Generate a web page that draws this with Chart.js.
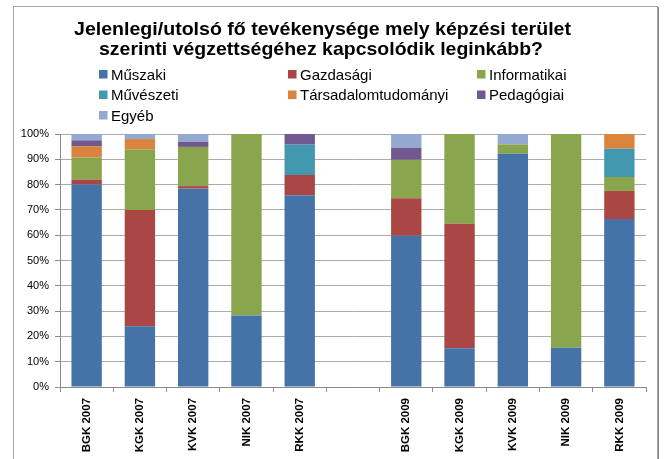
<!DOCTYPE html>
<html>
<head>
<meta charset="utf-8">
<script src="https://cdn.jsdelivr.net/npm/chart.js@4"></script>
<style>
html,body{margin:0;padding:0;background:#fff;}
canvas{display:block;}
</style>
</head>
<body>
<canvas id="c" width="664" height="459"></canvas>
<script>
const titleLines = ["Jelenlegi/utolsó fő tevékenysége mely képzési terület", "szerinti végzettségéhez kapcsolódik leginkább?"];
const categories = ["BGK 2007","KGK 2007","KVK 2007","NIK 2007","RKK 2007","","BGK 2009","KGK 2009","KVK 2009","NIK 2009","RKK 2009"];
const seriesNames = ["Műszaki","Gazdasági","Informatikai","Művészeti","Társadalomtudományi","Pedagógiai","Egyéb"];
const muszaki      = [80,   24, 78.4, 28.3, 75.8, null, 59.8, 15.3, 92.2, 15.5, 66.4];
const gazdasagi    = [2,    46, 1,    0,    8,    null, 14.8, 49.2, 0,    0,    11.1];
const informatikai = [8.7,  24, 15.5, 71.7, 0,    null, 15.2, 35.5, 3.7,  84.5, 5.5];
const muveszeti    = [0,    0,  0,    0,    12,   null, 0,    0,    0,    0,    11.2];
const tarsadalom   = [4.5,  4,  0,    0,    0,    null, 0,    0,    0,    0,    5.8];
const pedagogiai   = [2.3,  0,  2,    0,    4.2,  null, 4.7,  0,    0,    0,    0];
const egyeb        = [2.5,  2,  3.1,  0,    0,    null, 5.5,  0,    4.1,  0,    0];
const yTicks = [0,10,20,30,40,50,60,70,80,90,100];

const colors = ["#4572A7","#AA4643","#89A54E","#4198AF","#DB843D","#71588F","#93A9CF"];
const seriesData = [muszaki, gazdasagi, informatikai, muveszeti, tarsadalom, pedagogiai, egyeb];

const FONT = '"Liberation Sans", Arial, sans-serif';

function fitText(ctx, text, x, y, w, align) {
  const nat = ctx.measureText(text).width;
  const sx = w / nat;
  ctx.save();
  ctx.translate(x, y);
  ctx.scale(sx, 1);
  ctx.textAlign = align;
  ctx.fillText(text, 0, 0);
  ctx.restore();
}

const decor = {
  id: 'decor',
  beforeDraw(chart) {
    const ctx = chart.ctx;
    ctx.save();
    ctx.fillStyle = '#fff';
    ctx.fillRect(0, 0, chart.width, chart.height);
    ctx.strokeStyle = '#a6a6a6';
    ctx.lineWidth = 1;
    ctx.strokeRect(13.5, 6.5, 644, 470);
    ctx.strokeStyle = '#8a8a8a';
    ctx.beginPath(); ctx.moveTo(658.5, 7); ctx.lineTo(658.5, 459); ctx.stroke();
    ctx.restore();
  },
  afterDraw(chart) {
    const ctx = chart.ctx;
    ctx.save();
    ctx.fillStyle = '#000';
    ctx.textBaseline = 'alphabetic';
    ctx.font = 'bold 19px ' + FONT;
    fitText(ctx, titleLines[0], 322.5, 35, 497, 'center');
    fitText(ctx, titleLines[1], 321, 55, 444, 'center');
    // legend in 3 columns
    ctx.font = '15px ' + FONT;
    const colX = [99, 288, 477];
    const rowY = [79.5, 100, 120.5];
    chart.data.datasets.forEach((ds, i) => {
      const cx = colX[i % 3], by = rowY[Math.floor(i / 3)];
      ctx.fillStyle = ds.backgroundColor;
      ctx.fillRect(cx, by - 9.5, 8.5, 8.5);
      ctx.fillStyle = '#000';
      ctx.textAlign = 'left';
      ctx.fillText(ds.label, cx + 12, by);
    });
    ctx.restore();
  }
};

new Chart(document.getElementById('c'), {
  type: 'bar',
  data: {
    labels: categories,
    datasets: seriesNames.map((n, i) => ({
      label: n,
      data: seriesData[i],
      backgroundColor: colors[i],
      borderWidth: 0,
      barPercentage: 0.57,
      categoryPercentage: 1.0
    }))
  },
  options: {
    responsive: false,
    animation: false,
    devicePixelRatio: 1,
    layout: { padding: { left: 13, top: 134, right: 18, bottom: 0 } },
    plugins: { legend: { display: false }, title: { display: false }, tooltip: { enabled: false } },
    scales: {
      x: {
        stacked: true,
        afterFit(s) { s.height = 72; },
        grid: { display: true, offset: true, drawOnChartArea: false, drawTicks: true, tickLength: 5, color: '#8c8c8c' },
        border: { display: true, color: '#8c8c8c' },
        ticks: {
          autoSkip: false, minRotation: 90, maxRotation: 90, padding: 6,
          color: '#000', font: { family: FONT, size: 11.5, weight: 'bold' }
        }
      },
      y: {
        stacked: true,
        min: 0, max: 100,
        afterFit(s) { s.width = 47; },
        afterBuildTicks(s) { s.ticks = yTicks.map(v => ({ value: v })); },
        grid: { color: '#ababab', tickColor: '#8c8c8c', tickLength: 5, drawTicks: true },
        border: { display: true, color: '#8c8c8c' },
        ticks: {
          padding: 6, color: '#000',
          font: { family: FONT, size: 11 },
          callback: v => v + '%'
        }
      }
    }
  },
  plugins: [decor]
});
</script>
</body>
</html>
